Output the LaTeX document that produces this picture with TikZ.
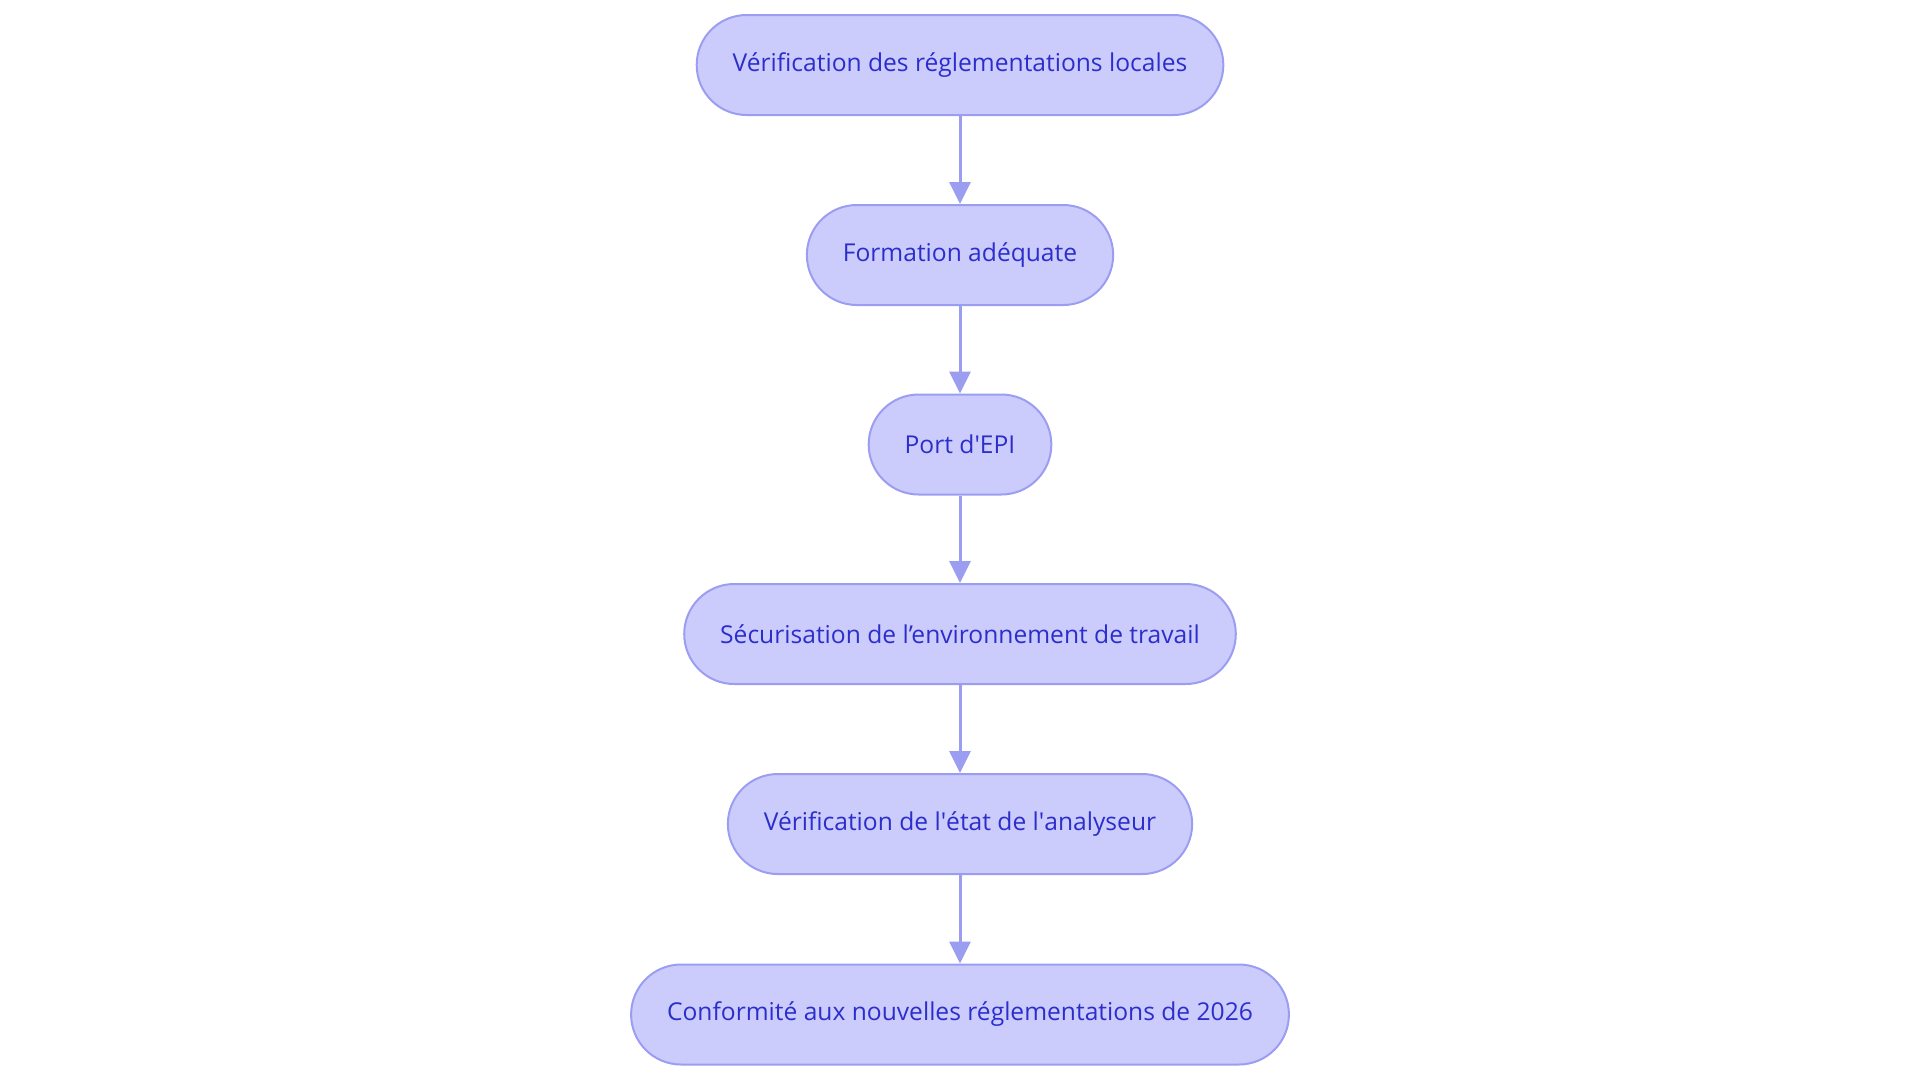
\documentclass[tikz,border=0pt]{standalone}
\usepackage{fontspec}
\setmainfont{Open Sans}
\usepackage{tikz}
\usetikzlibrary{arrows.meta}

\definecolor{stepfill}{RGB}{203,204,252}
\definecolor{stepline}{RGB}{155,158,240}
\definecolor{steptext}{RGB}{44,46,204}

\tikzset{
  stepbox/.style={draw=stepline, fill=stepfill, line width=1pt,
    rounded corners=25pt, minimum height=50pt, inner xsep=18pt,
    text=steptext, font=\fontsize{12.3}{15}\selectfont},
  steparrow/.style={draw=stepline, line width=1.5pt,
    -{Triangle[length=11pt,width=10.5pt]}}
}

\begin{document}
\begin{tikzpicture}[x=0.5pt,y=0.5pt]
          \useasboundingbox (0,0) rectangle (1920,-1083);
          \node[stepbox] (regl) at (960,-65){Vérification des réglementations locales};
          \node[stepbox] (form) at (960,-255){Formation adéquate};
          \node[stepbox] (epi) at (960,-444.5){Port d\textquotesingle EPI};
          \node[stepbox] (envi) at (960,-634){Sécurisation de l’environnement de travail};
          \node[stepbox] (anal) at (960,-824){Vérification de l\textquotesingle état de l\textquotesingle analyseur};
          \node[stepbox] (conf) at (960,-1014.5){Conformité aux nouvelles réglementations de 2026};
          \draw[steparrow] (regl) -- (form);
          \draw[steparrow] (form) -- (epi);
          \draw[steparrow] (epi) -- (envi);
          \draw[steparrow] (envi) -- (anal);
          \draw[steparrow] (anal) -- (conf);
        \end{tikzpicture}
\end{document}
